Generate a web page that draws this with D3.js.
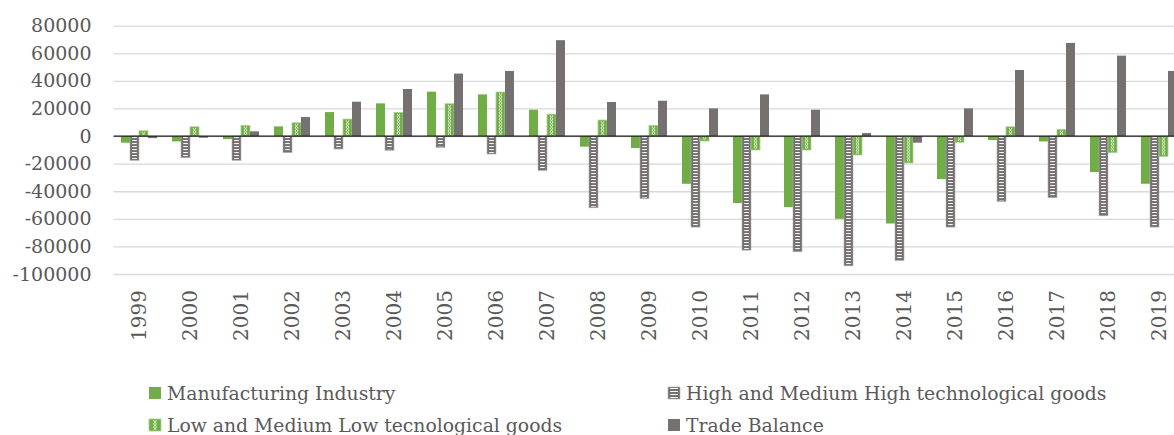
<!DOCTYPE html>
<html>
<head>
<meta charset="utf-8">
<script src="https://cdn.jsdelivr.net/npm/d3@7"></script>
<style>
  body { margin: 0; background: #fff; }
  #chart { width: 1174px; height: 435px; overflow: hidden; }
  text { font-family: "DejaVu Serif", serif; fill: #595959; }
</style>
</head>
<body>
<div id="chart"></div>
<script>
// Values
const years = ["1999", "2000", "2001", "2002", "2003", "2004", "2005", "2006", "2007", "2008",
  "2009", "2010", "2011", "2012", "2013", "2014", "2015", "2016", "2017", "2018", "2019"];

const seriesKeys = ["manufacturing", "high", "low", "balance"];
const seriesNames = ["Manufacturing Industry", "High and Medium High technological goods",
  "Low and Medium Low tecnological goods", "Trade Balance"];

const manufacturing = [-4800, -3900, -2200, 7000, 17400, 23700, 32200, 30200, 19100, -7700,
  -8700, -34600, -48600, -51500, -60000, -63400, -31200, -2900, -3900, -26100, -34600];
const highTech = [-17600, -15700, -17600, -12000, -9400, -10300, -8200, -13000, -24900, -52000,
  -45400, -66000, -82700, -83900, -94100, -90200, -66000, -47400, -44700, -57800, -66000];
const lowTech = [3800, 6700, 7700, 9600, 12300, 17100, 23400, 31900, 15900, 11600,
  7700, -3600, -10100, -10100, -13700, -19500, -4500, 6700, 4800, -12000, -14700];
const tradeBalance = [-1500, -1200, 3400, 13800, 24900, 34100, 45300, 47200, 69500, 24700,
  25600, 20100, 30200, 19100, 2200, -4800, 20100, 47900, 67500, 58300, 47200];

const yTicks = [80000, 60000, 40000, 20000, 0, -20000, -40000, -60000, -80000, -100000];

const seriesValues = { manufacturing: manufacturing, high: highTech, low: lowTech, balance: tradeBalance };

const green = "#70AD47";
const gray = "#767171";

const width = 1174, height = 435;
const plot = { left: 113.5, top: 25.7, bottom: 274 };

const svg = d3.select("#chart").append("svg")
  .attr("width", width)
  .attr("height", height);

// patterns: white dashes for the high tech bars, small white rings for the low tech bars
const defs = svg.append("defs");
defs.append("pattern")
  .attr("id", "dash")
  .attr("patternUnits", "userSpaceOnUse")
  .attr("width", 20).attr("height", 3)
  .append("rect")
  .attr("y", 1).attr("width", 20).attr("height", 1)
  .attr("fill", "#fff");

// x scales: one band per year, then one sub band per series
const x0 = d3.scaleBand()
  .domain(years)
  .range([plot.left, plot.left + 51 * years.length]);

const x1 = d3.scaleBand()
  .domain(seriesKeys)
  .range([7.5, 43.5]);

const y = d3.scaleLinear()
  .domain([-100000, 80000])
  .range([plot.bottom, plot.top]);

// ring pattern is centred on the bar width
const barW = x1.bandwidth();
const rings = defs.append("pattern")
  .attr("id", "rings")
  .attr("patternUnits", "userSpaceOnUse")
  .attr("width", 20).attr("height", 3.2);
rings.append("circle")
  .attr("cx", barW / 2).attr("cy", 1.6).attr("r", 1.25)
  .attr("fill", "none").attr("stroke", "#fff").attr("stroke-width", 0.7);

const ringsLegend = defs.append("pattern")
  .attr("id", "ringsLegend")
  .attr("patternUnits", "userSpaceOnUse")
  .attr("width", 20).attr("height", 3.2);
ringsLegend.append("circle")
  .attr("cx", 6).attr("cy", 1.6).attr("r", 1.25)
  .attr("fill", "none").attr("stroke", "#fff").attr("stroke-width", 0.7);

// draws one bar (or legend swatch) at the local origin of g
function drawBar(g, key, w, h, ringId) {
  if (key === "manufacturing") {
    g.append("rect").attr("width", w).attr("height", h).attr("fill", green);
  } else if (key === "balance") {
    g.append("rect").attr("width", w).attr("height", h).attr("fill", gray);
  } else if (key === "high") {
    g.append("rect").attr("width", w).attr("height", h).attr("fill", gray)
      .attr("stroke", "#B0B0B0").attr("stroke-width", 0.6);
    g.append("rect")
      .attr("x", 2.2).attr("y", 1)
      .attr("width", Math.max(0, w - 4.4)).attr("height", Math.max(0, h - 2))
      .attr("fill", "url(#dash)");
  } else {
    g.append("rect").attr("width", w).attr("height", h).attr("fill", green)
      .attr("stroke", "#A9D18E").attr("stroke-width", 0.8);
    g.append("rect")
      .attr("x", 2.2).attr("y", 1.2)
      .attr("width", Math.max(0, w - 4.4)).attr("height", Math.max(0, h - 2.4))
      .attr("fill", "url(#" + ringId + ")");
  }
}

// gridlines and y labels
const yAxis = svg.append("g")
  .attr("transform", "translate(" + plot.left + ",0)")
  .call(d3.axisLeft(y)
    .tickValues(yTicks)
    .tickFormat(d => String(d))
    .tickSize(-(width - plot.left))
    .tickPadding(22));
yAxis.select(".domain").remove();
yAxis.selectAll("line").attr("stroke", "#D9D9D9").attr("stroke-width", 1.3);
yAxis.selectAll("text")
  .style("font-size", "19px")
  .attr("fill", "#595959");

// bars
const groups = svg.append("g").selectAll("g")
  .data(years)
  .enter().append("g")
  .attr("transform", d => "translate(" + x0(d) + ",0)");

groups.each(function(year, i) {
  const grp = d3.select(this);
  seriesKeys.forEach(key => {
    const v = seriesValues[key][i];
    const top = y(Math.max(v, 0));
    const h = Math.abs(y(v) - y(0));
    const bar = grp.append("g")
      .attr("transform", "translate(" + x1(key) + "," + top + ")");
    drawBar(bar, key, barW, h, "rings");
  });
});

// zero line on top of the bars
svg.append("line")
  .attr("x1", plot.left).attr("x2", width)
  .attr("y1", y(0)).attr("y2", y(0))
  .attr("stroke", "#1a1a1a").attr("stroke-width", 1.3);

// year labels, rotated
svg.append("g").selectAll("text")
  .data(years)
  .enter().append("text")
  .attr("transform", d => "translate(" + (x0(d) + x0.bandwidth() / 2) + ",290) rotate(-90)")
  .attr("text-anchor", "end")
  .attr("dy", "0.35em")
  .style("font-size", "20px")
  .text(d => d);

// legend, two columns
const legendX = [149, 668];
const legendY = [387, 419];
const legend = svg.append("g").selectAll("g")
  .data(seriesKeys)
  .enter().append("g")
  .attr("transform", (d, i) => "translate(" + legendX[i % 2] + "," + legendY[Math.floor(i / 2)] + ")");

legend.each(function(key) {
  drawBar(d3.select(this), key, 12, 12, "ringsLegend");
});

legend.append("text")
  .attr("x", 18)
  .attr("y", 6)
  .attr("dy", "0.35em")
  .style("font-size", "18.8px")
  .text((d, i) => seriesNames[i]);
</script>
</body>
</html>
